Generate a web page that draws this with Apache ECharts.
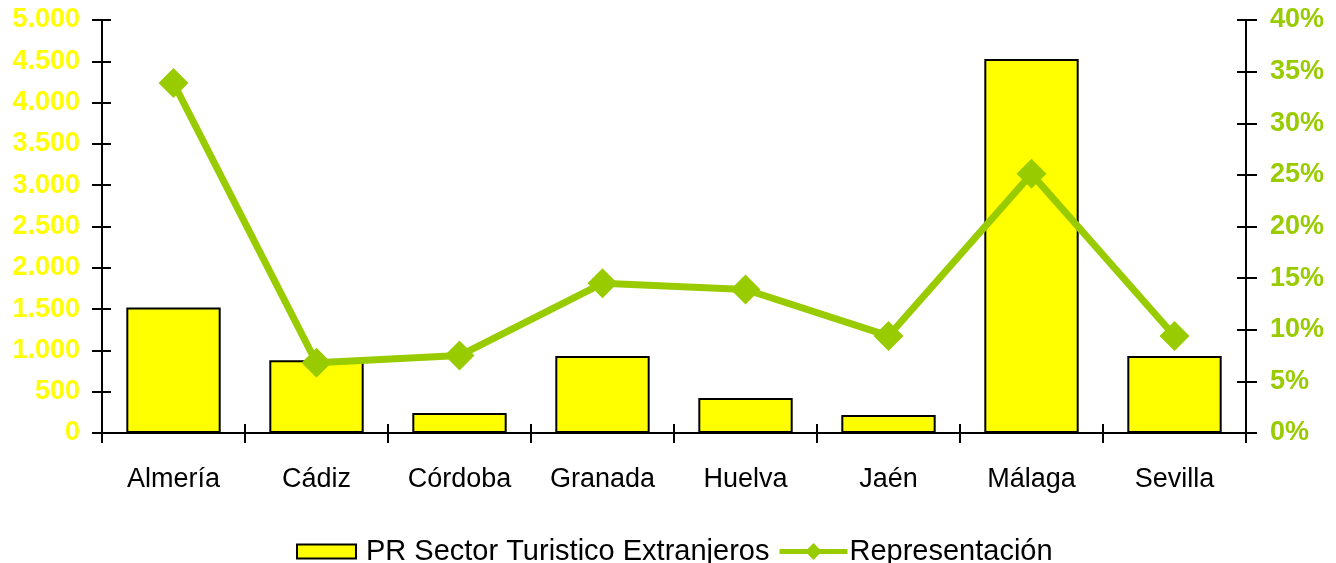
<!DOCTYPE html>
<html>
<head>
<meta charset="utf-8">
<script src="https://cdn.jsdelivr.net/npm/echarts@6/dist/echarts.min.js"></script>
<style>html,body{margin:0;padding:0;background:#fff}#c{width:1336px;height:563px}</style>
</head>
<body>
<div id="c"></div>
<script>
var categories = ['Almería','Cádiz','Córdoba','Granada','Huelva','Jaén','Málaga','Sevilla'];
var barValues = [1520, 880, 242, 932, 424, 218, 4528, 932];
var lineValues = [33.9, 6.8, 7.5, 14.5, 13.9, 9.4, 25.1, 9.4];
var leftTicks = {min:0, max:5000, interval:500};
var rightTicks = {min:0, max:40, interval:5};
var barName = 'PR Sector Turistico Extranjeros';
var lineName = 'Representación';

var chart = echarts.init(document.getElementById('c'));
var font = '"Liberation Sans", Arial, sans-serif';
var axisLine = {show:true, lineStyle:{color:'#000', width:2}};
var tickStyle = {color:'#000', width:2};
function fmtThousands(v){ return String(v).replace(/\B(?=(\d{3})+(?!\d))/g, '.'); }
var gridBox = {left:102, right:90, top:20, bottom:130};

chart.setOption({
  animation:false,
  textStyle:{fontFamily:font},
  grid:[Object.assign({}, gridBox), Object.assign({}, gridBox)],
  legend:[
    {data:[{name:barName, icon:'rect'}], left:296, top:537, padding:0, itemWidth:59, itemHeight:14, itemGap:5,
     textStyle:{fontSize:29, color:'#000', fontFamily:font, padding:[0,0,0,5]}},
    {data:[lineName], left:777, top:537, padding:0, itemWidth:68, itemHeight:21, itemGap:5,
     lineStyle:{width:5, color:'#99CC00'},
     textStyle:{fontSize:29, color:'#000', fontFamily:font, padding:[0,0,0,-3]}}
  ],
  xAxis:[
    {type:'category', gridIndex:0, data:categories, boundaryGap:true, axisLine:axisLine,
     axisTick:{show:true, alignWithLabel:false, length:10, lineStyle:tickStyle},
     axisLabel:{fontSize:27, color:'#000', margin:33, fontFamily:font}, splitLine:{show:false}},
    {type:'category', gridIndex:1, data:categories, position:'bottom', boundaryGap:true, axisLine:{show:false},
     offset:-9,
     axisTick:{show:true, length:9, lineStyle:tickStyle},
     axisLabel:{show:false}, splitLine:{show:false}}
  ],
  yAxis:[
    {type:'value', gridIndex:0, min:leftTicks.min, max:leftTicks.max, interval:leftTicks.interval, position:'left', axisLine:axisLine,
     axisTick:{show:true, length:10, lineStyle:tickStyle},
     axisLabel:{fontSize:27, fontWeight:'bold', color:'#FFFF00', margin:22, formatter:fmtThousands, fontFamily:font},
     splitLine:{show:false}},
    {type:'value', gridIndex:0, min:rightTicks.min, max:rightTicks.max, interval:rightTicks.interval, position:'right', axisLine:axisLine,
     axisTick:{show:true, length:11, lineStyle:tickStyle},
     axisLabel:{fontSize:27, fontWeight:'bold', color:'#99CC00', margin:24, formatter:'{value}%', fontFamily:font},
     splitLine:{show:false}},
    {type:'value', gridIndex:1, min:leftTicks.min, max:leftTicks.max, interval:leftTicks.interval, position:'left', axisLine:{show:false},
     offset:-9,
     axisTick:{show:true, length:9, lineStyle:tickStyle},
     axisLabel:{show:false}, splitLine:{show:false}},
    {type:'value', gridIndex:1, min:rightTicks.min, max:rightTicks.max, interval:rightTicks.interval, position:'right', axisLine:{show:false},
     offset:-9,
     axisTick:{show:true, length:9, lineStyle:tickStyle},
     axisLabel:{show:false}, splitLine:{show:false}}
  ],
  series:[
    {name:barName, type:'bar', data:barValues, xAxisIndex:0, yAxisIndex:0, barCategoryGap:'34%',
     itemStyle:{color:'#FFFF00', borderColor:'#000', borderWidth:2}, z:3},
    {name:lineName, type:'line', data:lineValues, xAxisIndex:0, yAxisIndex:1,
     symbol:'diamond', symbolSize:30,
     lineStyle:{color:'#99CC00', width:7}, itemStyle:{color:'#99CC00'}, z:5}
  ]
});
</script>
</body>
</html>
